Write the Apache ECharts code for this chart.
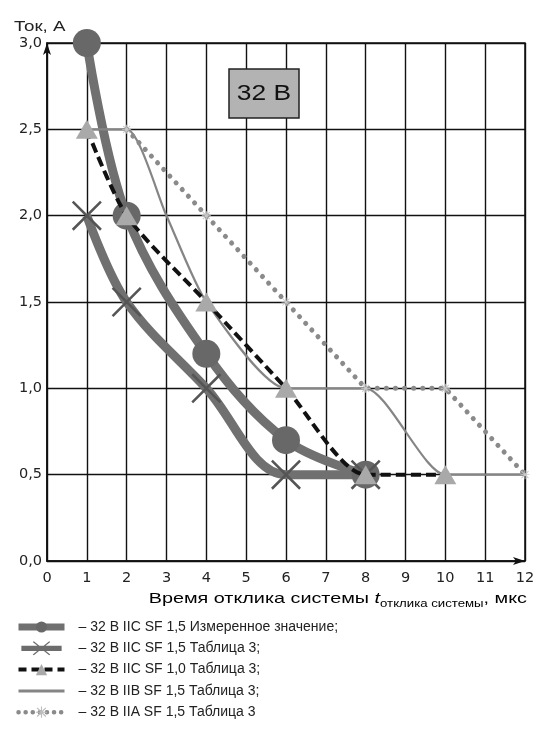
<!DOCTYPE html>
<html>
<head>
<meta charset="utf-8">
<script src="https://cdn.jsdelivr.net/npm/echarts@6/dist/echarts.min.js"></script>
<style>
html,body{margin:0;padding:0;background:#fff;}
#chart{width:539px;height:745px;}
</style>
</head>
<body>
<div id="chart"></div>
<script>
const seriesNames = [
  '– 32 В IIC SF 1,5 Измеренное значение;',
  '– 32 В IIC SF 1,5 Таблица 3;',
  '– 32 В IIC SF 1,0 Таблица 3;',
  '– 32 В IIB SF 1,5 Таблица 3;',
  '– 32 В IIA SF 1,5 Таблица 3'
];
const measuredT = [1, 2, 4, 6, 8];
const measuredI = [3.0, 2.0, 1.2, 0.7, 0.5];
const iic15T = [1, 2, 4, 6, 8];
const iic15I = [2.0, 1.5, 1.0, 0.5, 0.5];
const iic10T = [1, 2, 4, 6, 8, 10];
const iic10I = [2.5, 2.0, 1.5, 1.0, 0.5, 0.5];
const iibT = [1, 2, 3, 4, 6, 8, 10, 12];
const iibI = [2.5, 2.5, 2.0, 1.5, 1.0, 1.0, 0.5, 0.5];
const iiaT = [2, 4, 6, 8, 10, 12];
const iiaI = [2.5, 2.0, 1.5, 1.0, 1.0, 0.5];
const boxLabel = '32 В';
const yAxisTitle = 'Ток, А';
const xAxisTitle = 'Время отклика системы ';
const xAxisSymbol = 't';
const xAxisSub = 'отклика системы';
const xAxisUnit = ', мкс';

const pairs = (xs, ys) => xs.map((x, i) => [x, ys[i]]);
const FONT = '"Liberation Sans", Arial, sans-serif';
const TICKFONT = '"DejaVu Sans", sans-serif';
const crossPath = 'path://M0,1.2L1.2,0L20,18.8L18.8,20Z M18.8,0L20,1.2L1.2,20L0,18.8Z';
const starPath = 'path://M9,0L11,0L11,20L9,20Z M0,9L20,9L20,11L0,11Z M1.5,3L3,1.5L18.5,17L17,18.5Z M17,1.5L18.5,3L3,18.5L1.5,17Z';
// legend icon: thick line with a large X across it (46 x 16 box)
const crossLegendIcon = 'path://M0,5L46,5L46,11L0,11Z M13,0.8L14.2,0L33,15.2L31.8,16Z M31.8,0L33,0.8L14.2,16L13,15.2Z';

const chart = echarts.init(document.getElementById('chart'), null, {renderer: 'canvas'});
chart.setOption({
  animation: false,
  backgroundColor: '#fff',
  textStyle: {fontFamily: FONT},
  grid: {left: 47, right: 14, top: 43, bottom: 184, show: true, borderColor: '#111', borderWidth: 1.5},
  xAxis: {
    type: 'value', min: 0, max: 12, interval: 1,
    axisLine: {lineStyle: {color: '#111', width: 1.5}, symbol: ['none', 'arrow'], symbolSize: [6, 12]},
    axisTick: {show: false},
    splitLine: {lineStyle: {color: '#111', width: 1.4}},
    axisLabel: {color: '#222', fontSize: 14.5, margin: 10, fontFamily: TICKFONT}
  },
  yAxis: {
    type: 'value', min: 0, max: 3, interval: 0.5,
    axisLine: {show: true, lineStyle: {color: '#111', width: 1.5}, symbol: ['none', 'arrow'], symbolSize: [6, 12]},
    axisTick: {show: false},
    splitLine: {lineStyle: {color: '#111', width: 1.4}},
    axisLabel: {color: '#222', fontSize: 14.5, margin: 5, fontFamily: TICKFONT,
      formatter: v => v.toFixed(1).replace('.', ',')}
  },
  legend: {
    orient: 'vertical', left: 15, top: 620, padding: 0, itemWidth: 46, itemHeight: 14, itemGap: 7.3,
    textStyle: {color: '#222', fontSize: 14, fontFamily: FONT, padding: [0, 0, 0, 9]},
    data: [
      {name: seriesNames[0], lineStyle: {width: 7, color: '#707070'}, itemStyle: {color: '#686868'}},
      {name: seriesNames[1], icon: crossLegendIcon, itemStyle: {color: '#6c6c6c'}},
      {name: seriesNames[2], lineStyle: {width: 4, type: [8, 5], color: '#111'}, itemStyle: {color: '#a9a9a9'}},
      {name: seriesNames[3], lineStyle: {width: 3, color: '#858585'}, itemStyle: {opacity: 0}},
      {name: seriesNames[4], lineStyle: {width: 4.5, type: [0.1, 7], cap: 'round', color: '#8a8a8a'}, itemStyle: {color: '#bdbdbd'}}
    ]
  },
  graphic: [
    {type: 'rect', shape: {x: 229, y: 69, width: 70, height: 49},
      style: {fill: '#b3b3b3', stroke: '#222', lineWidth: 1.5}, z: 10},
    {type: 'text', x: 264, y: 94, z: 11, scaleX: 1.2,
      style: {text: boxLabel, fill: '#111', font: '22px ' + FONT, align: 'center', verticalAlign: 'middle'}},
    {type: 'text', x: 14, y: 27, scaleX: 1.25,
      style: {text: yAxisTitle, fill: '#222', font: '15px ' + FONT, align: 'left', verticalAlign: 'middle'}},
    {type: 'text', x: 527, y: 599, scaleX: 1.32,
      style: {
        text: '{a|' + xAxisTitle + '}{i|' + xAxisSymbol + '}{s|' + xAxisSub + '}{a|' + xAxisUnit + '}',
        align: 'right', verticalAlign: 'middle',
        rich: {
          a: {fontSize: 15, fontFamily: FONT, color: '#222'},
          i: {fontSize: 15, fontFamily: FONT, fontStyle: 'italic', color: '#222'},
          s: {fontSize: 10, fontFamily: FONT, color: '#222', padding: [10, 0, 0, 0]}
        }
      }}
  ],
  series: [
    {
      name: seriesNames[0], type: 'line', smooth: 0.35, z: 3,
      data: pairs(measuredT, measuredI),
      symbol: 'circle', symbolSize: 28,
      lineStyle: {color: '#707070', width: 9},
      itemStyle: {color: '#686868'}
    },
    {
      name: seriesNames[1], type: 'line', smooth: 0.35, z: 3,
      data: pairs(iic15T, iic15I),
      symbol: crossPath, symbolSize: 30,
      lineStyle: {color: '#707070', width: 9},
      itemStyle: {color: '#555'}
    },
    {
      name: seriesNames[3], type: 'line', smooth: 0.22, z: 4,
      data: pairs(iibT, iibI),
      symbol: 'none',
      lineStyle: {color: '#858585', width: 2.2},
      itemStyle: {color: '#858585'}
    },
    {
      name: seriesNames[4], type: 'line', smooth: false, z: 4,
      data: pairs(iiaT, iiaI),
      symbol: starPath, symbolSize: 9,
      lineStyle: {color: '#8a8a8a', width: 5, type: [0.1, 9], cap: 'round'},
      itemStyle: {color: '#c8c8c8'}
    },
    {
      name: seriesNames[2], type: 'line', smooth: 0.25, z: 5,
      data: pairs(iic10T, iic10I),
      symbol: 'triangle', symbolSize: [22, 19],
      lineStyle: {color: '#111', width: 4, type: [10, 5]},
      itemStyle: {color: '#a9a9a9'}
    }
  ]
});
</script>
</body>
</html>
